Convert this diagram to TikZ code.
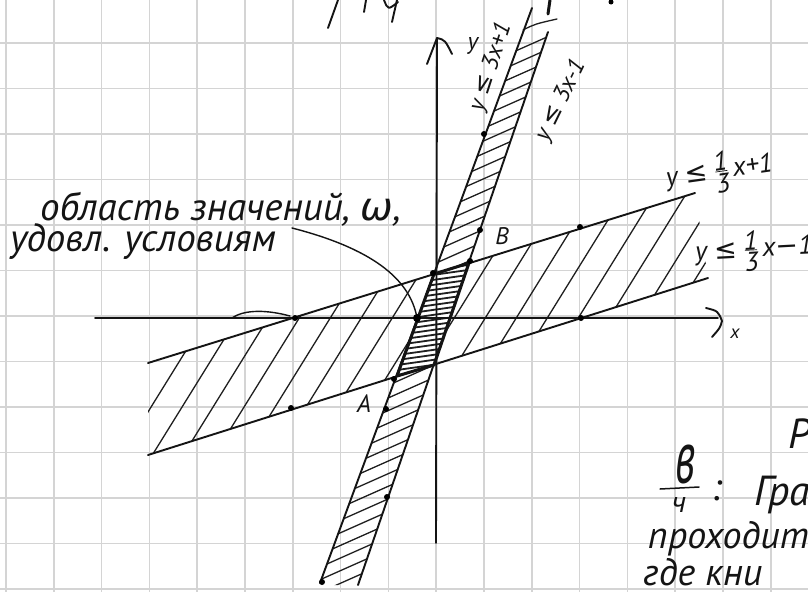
\documentclass[tikz,border=0pt]{standalone}
\usepackage{fontspec}
\usepackage{graphicx}
\newfontfamily\hand{PT Sans}
\newfontfamily\symf{DejaVu Sans}
\newcommand\hw{\hand\itshape}
\newcommand\lesym{{\symf\itshape ≤}}
\newcommand\minsym{{\symf −}}
\newcommand\thirdfrac{$\vcenter{\hbox{\shortstack{1\\[-3pt]\rule{0.45em}{0.7pt}\\[-1pt]3}}}$}
\begin{document}
\begin{tikzpicture}[x=1pt,y=-1pt,
  ink/.style={draw=black!92,line width=1.9pt,line cap=round,line join=round},
  hatch/.style={draw=black!88,line width=1.3pt,line cap=round},
  gridl/.style={draw=black!17,line width=1.6pt},
  dot/.style={circle,fill=black,inner sep=0pt,minimum size=6pt},
  lbl/.style={font=\hw\fontsize{24}{26}\selectfont,inner sep=0pt,text=black!92},
  big/.style={font=\hw\fontsize{39}{42}\selectfont,inner sep=0pt,text=black!92}]
\useasboundingbox (0,0) rectangle (808,592);
\clip (0,0) rectangle (808,592);
\fill[white] (0,0) rectangle (808,592);
% grid paper
\foreach \k in {0,...,16} \draw[gridl] ({6+47.8*\k},0) -- ({6+47.8*\k},592);
\foreach \j in {0,...,12} \draw[gridl] (0,{43+45.5*\j}) -- (808,{43+45.5*\j});
% key points
\coordinate (U1) at (148,363); \coordinate (U2) at (695,193);
\coordinate (D1) at (148,455); \coordinate (D2) at (708,278);
\coordinate (L1) at (532,8);   \coordinate (L2) at (320,583);
\coordinate (R1) at (548,32);  \coordinate (R2) at (358,585);
\coordinate (P1) at (434,274); \coordinate (P2) at (469,263);
\coordinate (P3) at (434,365); \coordinate (P4) at (397,376);
% hatching of the wide band
\begin{scope}
\clip (U1) -- (U2) -- (D2) -- (D1) -- cycle;
\foreach \s in {112,143,...,720} \draw[hatch] (\s,470) -- ({\s+0.62*320},150);
\end{scope}
% hatching of the steep band
\begin{scope}
\clip (526.8,22) -- (551.4,22) -- (357.8,585) -- (319.1,585) -- cycle;
\foreach \h in {44,59,...,590} \draw[hatch] ({547-0.3565*\h-45},{\h+20}) -- ({547-0.3565*\h+45},{\h-20});
\end{scope}
\draw[hatch] (523,30) .. controls (535,24) .. (557,19);
% intersection region
\fill[white] (P1) -- (P2) -- (P3) -- (P4) -- cycle;
\begin{scope}
\clip (P1) -- (P2) -- (P3) -- (P4) -- cycle;
\foreach \h in {255,260,...,385} \draw[hatch,line width=1.8pt] (390,{\h+6}) -- (475,{\h-6});
\end{scope}
\draw[ink,line width=3pt] (P1) -- (P2) -- (P3) -- (P4) -- cycle;
% boundary lines
\draw[ink] (L1) -- (L2);
\draw[ink] (R1) -- (R2);
\draw[ink] (U1) -- (U2);
\draw[ink] (D1) -- (D2);
% axes
\coordinate (Ybot) at (436,543); \coordinate (Ytop) at (437,38);
\coordinate (Xl) at (95,318); \coordinate (Xr) at (718,318);
\draw[ink] (Ybot) -- (Ytop);
\draw[ink] (427,64) -- (Ytop) .. controls (445,40) .. (452,54);
\draw[ink] (Xl) -- (Xr);
\draw[ink] (706,308) .. controls (718,311) .. (722,321) .. controls (720,328) .. (712,337);
\draw[ink,line width=1.4pt] (232,318) .. controls (245,309) and (268,310) .. (290,316);
% dots
\foreach \p in {(295,318),(581,318),(291,408),(580,227),(484,134),(480,230),(470,261),(433,273),(394,379),(386,409),(387,497),(322,582)}
  \node[dot] at \p {};
% labels
\node[lbl] (ylab) at (473,46) {y};
\node[lbl,font=\hw\fontsize{19}{21}\selectfont] (xlab) at (735,334) {x};
\node[lbl,rotate=72] (lab1) at (491,67) {y \lesym\ 3x+1};
\node[lbl,rotate=64] (lab2) at (561,101) {y \lesym\ 3x-1};
\node[lbl,font=\hw\fontsize{27}{29}\selectfont,rotate=8,anchor=west] (lab3) at (666,180) {y \lesym\ \thirdfrac\,x+1};
\node[lbl,font=\hw\fontsize{27}{29}\selectfont,rotate=3,anchor=west] (lab4) at (695,254) {y \lesym\ \thirdfrac\,x\minsym1};
\node[lbl,font=\hw\fontsize{25}{27}\selectfont] (Alab) at (364,404) {A};
\node[lbl] (Blab) at (502,236) {B};
% annotation
\node[big,anchor=base west] (t1) at (40,220) {область значений, {\symf\itshape ω},};
\node[big,anchor=base west] (t2) at (10,251) {удовл. условиям};
\coordinate (c0) at (292,228); \coordinate (c1) at (417,318);
\draw[ink,line width=1.4pt] (c0) .. controls (370,248) and (410,278) .. (c1);
\node[dot,minimum size=8pt] (c1dot) at (c1) {};
% bottom right writing
\node[big,font=\hw\fontsize{40}{42}\selectfont,anchor=base] (fv) at (686,483) {\scalebox{1.1}[1.9]{в}};
\coordinate (fb1) at (660,489); \coordinate (fb2) at (699,487);
\draw[ink,line width=1.5pt] (fb1) -- (fb2);
\node[lbl,font=\hw\fontsize{30}{32}\selectfont,anchor=base] (fch) at (679,512) {ч};
\node[big,anchor=base west] (colon) at (711,500) {:};
\node[big,font=\hw\fontsize{42}{44}\selectfont,anchor=base west] (gra) at (754,505) {Гра};
\node[big,font=\hw\fontsize{42}{44}\selectfont,anchor=base west] (Rr) at (788,448) {Р};
\node[big,font=\hw\fontsize{38}{40}\selectfont,anchor=base west] (pr) at (648,548) {проходит};
\node[big,font=\hw\fontsize{38}{40}\selectfont,anchor=base west] (gde) at (643,585) {где кни};
% descenders of the line above
\draw[ink] (338,0) -- (328,28);
\draw[ink] (366,0) -- (364,12);
\draw[ink] (384,0) .. controls (388,10) .. (398,2);
\draw[ink] (397,0) -- (392,22);
\draw[ink,line width=3pt] (550,0) -- (548,14);
\node[dot,minimum size=5pt] at (611,2) {};
\end{tikzpicture}
\end{document}
